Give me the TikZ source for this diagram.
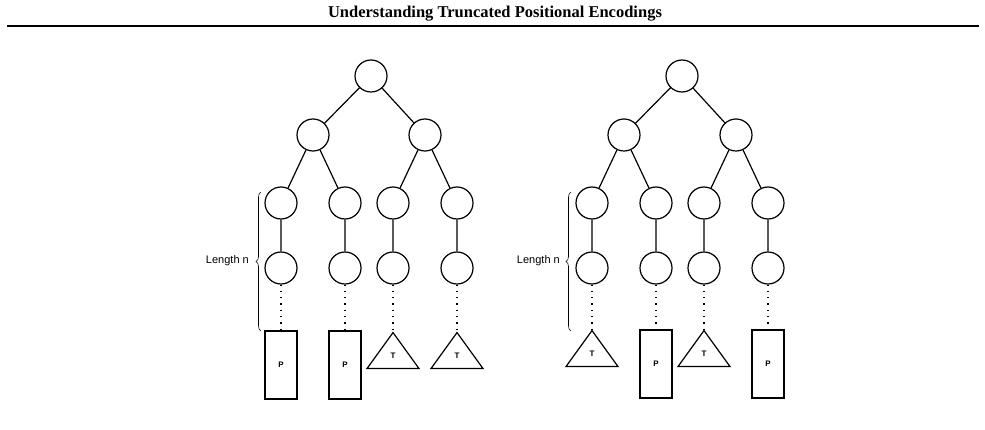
\documentclass[tikz,border=0pt]{standalone}
\usepackage{fontspec}
\setmainfont{Liberation Serif}
\setsansfont{Liberation Sans}
\usetikzlibrary{shapes.geometric,decorations.pathreplacing}
\tikzset{%
  vertex/.style   = {shape=circle, draw, line width=1.2pt,%
                     inner sep=0pt, minimum size=32pt},%
  leafbox/.style  = {shape=rectangle, draw, line width=1.2pt,%
                     minimum width=32pt, minimum height=68pt,%
                     font=\sffamily\bfseries\fontsize{8}{9}\selectfont},%
  leaftri/.style  = {shape=isosceles triangle, draw, line width=1.2pt,%
                     isosceles triangle stretches, shape border rotate=90,%
                     minimum width=52pt, minimum height=36pt, inner sep=0pt,%
                     anchor=apex, font=\sffamily\bfseries\fontsize{8}{9}\selectfont},%
  edge/.style     = {line width=1.2pt},%
  trunc/.style    = {line width=1.3pt, dash pattern=on 1.3pt off 5pt},%
  lenbrace/.style = {decorate, decoration={brace,amplitude=5pt}, line width=0.6pt},%
  lenlabel/.style = {anchor=east, inner sep=0pt, font=\sffamily\fontsize{11}{12}\selectfont}%
}

\begin{document}
\begin{tikzpicture}[x=1pt,y=-1pt]%
	\useasboundingbox (0,0) rectangle (985,430);%
	% header
	\node (title) at (495,14) {\bfseries\fontsize{16.5}{18}\selectfont Understanding Truncated Positional Encodings};%
	\draw[line width=1.3pt] (7,26) -- (979,26);%
	% left tree
	\node[vertex] (ra) at (371,76) {};%
	\node[vertex] (ra1) at (313,135) {};%
	\node[vertex] (ra2) at (425,135) {};%
	\node[vertex] (ra11) at (281,203) {};%
	\node[vertex] (ra12) at (345,203) {};%
	\node[vertex] (ra21) at (393,203) {};%
	\node[vertex] (ra22) at (457,203) {};%
	\node[vertex] (sa11) at (281,268) {};%
	\node[vertex] (sa12) at (345,268) {};%
	\node[vertex] (sa21) at (393,268) {};%
	\node[vertex] (sa22) at (457,268) {};%
	\node[leafbox] (la11) at (281,365) {P};%
	\node[leafbox] (la12) at (345,365) {P};%
	\node[leaftri] (la21) at (393,331) {T};%
	\node[leaftri] (la22) at (457,331) {T};%
	\draw[edge] (ra) -- (ra1) (ra) -- (ra2)%
		(ra1) -- (ra11) (ra1) -- (ra12) (ra2) -- (ra21) (ra2) -- (ra22)%
		(ra11) -- (sa11) (ra12) -- (sa12) (ra21) -- (sa21) (ra22) -- (sa22);%
	\draw[trunc] (sa11) -- (la11.north) (sa12) -- (la12.north)%
		(sa21) -- (la21.apex) (sa22) -- (la22.apex);%
	\coordinate (ba0) at (261,331);%
	\coordinate (ba1) at (261,192);%
	\draw[lenbrace] (ba0) -- (ba1);%
	\node[lenlabel] (lena) at (249,261) {Length n};%
	% right tree
	\node[vertex] (rb) at (682,76) {};%
	\node[vertex] (rb1) at (624,135) {};%
	\node[vertex] (rb2) at (736,135) {};%
	\node[vertex] (rb11) at (592,203) {};%
	\node[vertex] (rb12) at (656,203) {};%
	\node[vertex] (rb21) at (704,203) {};%
	\node[vertex] (rb22) at (768,203) {};%
	\node[vertex] (sb11) at (592,268) {};%
	\node[vertex] (sb12) at (656,268) {};%
	\node[vertex] (sb21) at (704,268) {};%
	\node[vertex] (sb22) at (768,268) {};%
	\node[leaftri] (lb11) at (592,329) {T};%
	\node[leafbox] (lb12) at (656,364) {P};%
	\node[leaftri] (lb21) at (704,329) {T};%
	\node[leafbox] (lb22) at (768,364) {P};%
	\draw[edge] (rb) -- (rb1) (rb) -- (rb2)%
		(rb1) -- (rb11) (rb1) -- (rb12) (rb2) -- (rb21) (rb2) -- (rb22)%
		(rb11) -- (sb11) (rb12) -- (sb12) (rb21) -- (sb21) (rb22) -- (sb22);%
	\draw[trunc] (sb11) -- (lb11.apex) (sb12) -- (lb12.north)%
		(sb21) -- (lb21.apex) (sb22) -- (lb22.north);%
	\coordinate (bb0) at (571,331);%
	\coordinate (bb1) at (571,192);%
	\draw[lenbrace] (bb0) -- (bb1);%
	\node[lenlabel] (lenb) at (560,261) {Length n};%
\end{tikzpicture}
\end{document}
